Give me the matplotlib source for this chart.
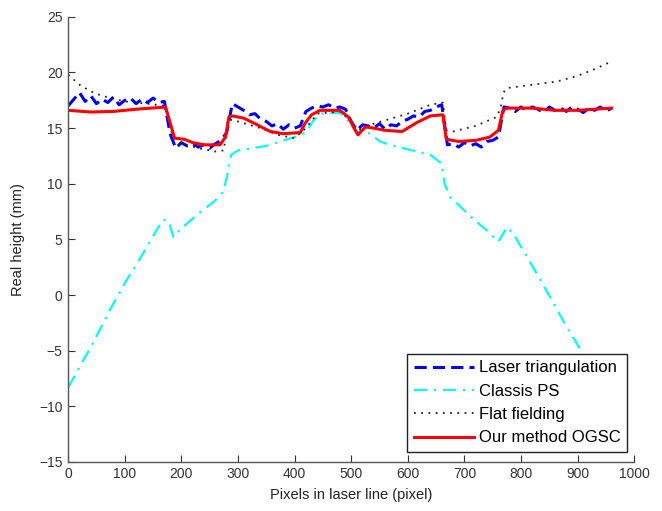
import matplotlib
matplotlib.use("Agg")
import matplotlib.pyplot as plt

plt.rcParams['font.family'] = ['Liberation Sans', 'DejaVu Sans']

# Laser triangulation (noisy measurement)
x_laser = list(range(0, 961, 10))
y_laser = [17.0, 17.6, 18.2, 17.4, 17.9, 17.2, 17.6, 17.3, 17.8, 17.1,
           17.5, 17.7, 17.2, 17.6, 17.3, 17.7, 17.3, 17.4, 14.5, 13.2,
           13.7, 13.4, 13.6, 13.3, 13.5, 13.2, 13.6, 13.9, 14.6, 17.2,
           16.9, 16.6, 16.2, 16.3, 15.8, 15.6, 15.2, 15.4, 14.9, 15.3,
           15.0, 15.2, 16.5, 16.8, 17.0, 16.9, 17.1, 16.8, 16.9, 16.7,
           15.6, 14.8, 15.3, 15.2, 15.0, 15.4, 14.9, 15.3, 15.2, 15.6,
           15.8, 16.1, 16.0, 16.5, 16.6, 16.9, 17.1, 13.5, 13.6, 13.3,
           13.7, 13.4, 13.6, 13.3, 13.8, 13.9, 14.2, 16.9, 16.8, 16.5,
           16.9, 16.6, 16.9, 16.7, 16.4, 16.9, 16.6, 16.8, 16.5, 16.9,
           16.7, 16.4, 16.8, 16.6, 16.9, 16.5, 16.8]

# Classis PS
x_ps = [0, 44, 74, 104, 133, 157, 168, 178, 186, 200, 230, 260, 274, 282, 288,
        300, 350, 400, 420, 432, 445, 480, 500, 512, 520, 530, 551, 575, 600, 640, 660, 665,
        675, 700, 716, 740, 760, 768, 776, 790, 811, 835, 857, 880, 905, 930, 960]
y_ps = [-8.3, -4.3, -1.3, 1.4, 3.8, 5.9, 6.8, 6.6, 5.2, 6.0, 7.3, 8.5, 9.3, 11.0, 12.6,
        13.0, 13.4, 14.2, 14.6, 15.6, 16.3, 16.4, 15.4, 14.6, 14.9, 14.6, 13.8, 13.4, 13.1, 12.6, 11.8, 10.0,
        8.8, 7.6, 6.8, 5.8, 4.8, 5.5, 6.1, 5.2, 3.4, 1.3, -0.7, -2.8, -4.9, -7.2, -9.8]

# Flat fielding
x_ff = [0, 20, 40, 60, 100, 140, 170, 185, 200, 230, 260, 275, 282, 300, 340, 370,
        400, 420, 440, 480, 500, 510, 520, 540, 600, 640, 662, 668, 680, 720, 757,
        764, 769, 775, 820, 864, 900, 930, 960]
y_ff = [19.8, 18.9, 18.3, 17.9, 17.4, 17.2, 17.0, 14.2, 13.6, 13.2, 12.9, 13.0, 15.8, 15.6, 15.0, 14.4,
        14.1, 15.0, 16.3, 16.5, 15.6, 14.8, 15.0, 15.4, 16.3, 17.1, 17.3, 14.8, 14.7, 15.2, 16.0,
        16.8, 18.2, 18.6, 18.9, 19.2, 19.7, 20.3, 21.0]

# Our method OGSC
x_ogsc = [0, 40, 80, 120, 160, 172, 180, 188, 205, 220, 240, 268, 278, 284, 290, 310,
          330, 357, 380, 410, 418, 430, 445, 480, 495, 505, 512, 525, 540, 560, 590,
          616, 640, 662, 668, 690, 720, 745, 760, 768, 775, 820, 860, 900, 930, 960]
y_ogsc = [16.6, 16.45, 16.5, 16.7, 16.85, 16.9, 15.5, 14.1, 14.0, 13.7, 13.5, 13.5, 14.2, 16.0, 16.1, 15.9,
          15.4, 14.7, 14.5, 14.6, 15.4, 16.2, 16.6, 16.6, 16.0, 15.0, 14.4, 15.1, 15.0, 14.8, 14.7,
          15.5, 16.1, 16.2, 14.0, 13.8, 13.9, 14.2, 14.8, 16.6, 16.8, 16.8, 16.6, 16.6, 16.7, 16.8]

xticks = list(range(0, 1001, 100))
yticks = list(range(-15, 26, 5))

fig = plt.figure(figsize=(6.62, 5.11), dpi=100)
ax = fig.add_axes([0.103, 0.096, 0.855, 0.871])

ax.plot(x_laser, y_laser, color='#0000FF', linestyle=(0, (4, 2)), lw=2.2, label='Laser triangulation')
ax.plot(x_ps, y_ps, color='#00FFFF', linestyle=(0, (6, 3, 1, 3)), lw=1.6, label='Classis PS')
ax.plot(x_ff, y_ff, color='#222222', linestyle=(0, (1, 3)), lw=1.3, label='Flat fielding')
ax.plot(x_ogsc, y_ogsc, color='#FF0000', linestyle='-', lw=2.2, label='Our method OGSC')

ax.set_xlim(0, 1000)
ax.set_ylim(-15, 25)
ax.set_xticks(xticks)
ax.set_yticks(yticks)
ax.tick_params(direction='in', length=5, width=0.8, colors='#333333', labelsize=10, pad=4)
for s in ['top', 'right']:
    ax.spines[s].set_visible(False)
for s in ['left', 'bottom']:
    ax.spines[s].set_color('#555555')
    ax.spines[s].set_linewidth(1.0)

ax.set_xlabel('Pixels in laser line (pixel)', fontsize=10.5, color='#222222', labelpad=5)
ax.set_ylabel('Real height (mm)', fontsize=10.5, color='#222222', labelpad=10)

leg = ax.legend(loc='lower right', bbox_to_anchor=(0.988, 0.022), borderaxespad=0,
                fontsize=12, frameon=True, fancybox=False, framealpha=1,
                edgecolor='#222222', handlelength=3.6, handletextpad=0.3,
                labelspacing=0.5, borderpad=0.4)
leg.get_frame().set_linewidth(1.0)

fig.savefig('out.png', dpi=100)
